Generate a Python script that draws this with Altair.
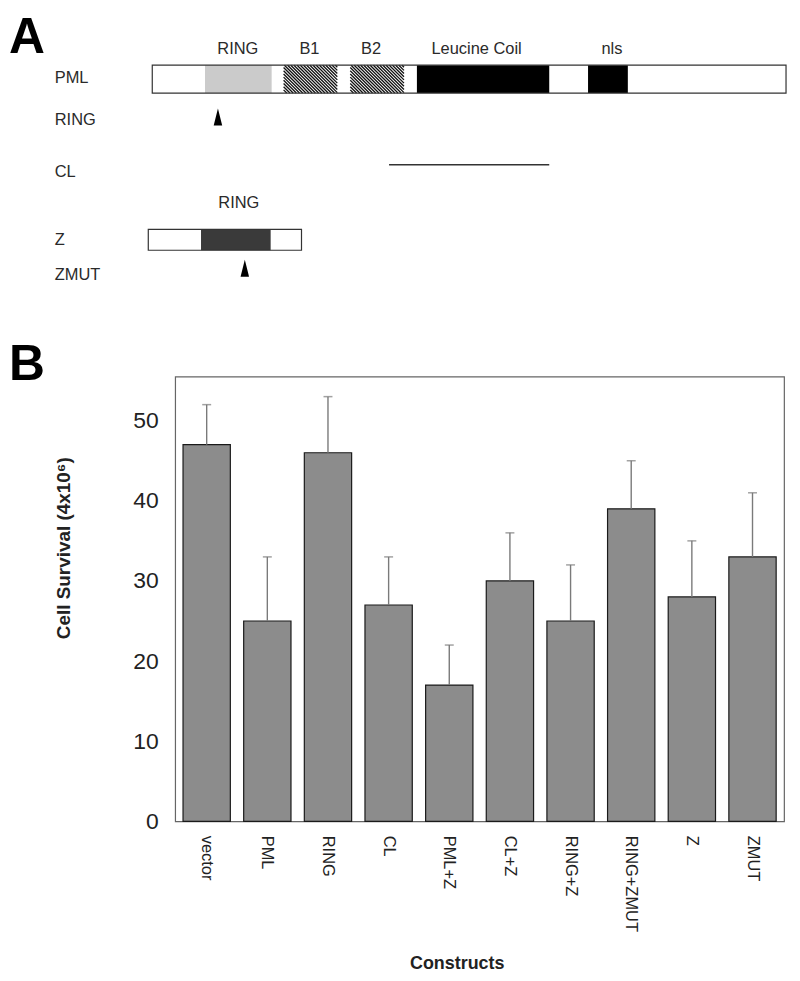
import altair as alt
import pandas as pd

# ---------------- Panel B data ----------------
constructs = ["vector", "PML", "RING", "CL", "PML+Z", "CL+Z", "RING+Z", "RING+ZMUT", "Z", "ZMUT"]
survival = [47, 25, 46, 27, 17, 30, 25, 39, 28, 33]
error = [5, 8, 7, 6, 5, 6, 7, 6, 7, 8]

# ---------------- Panel A data (schematic, drawing units) ----------------
pml_span = [-23, 614]
pml_rows = [52, 80]
domain_names = ["RING", "B1", "B2", "Leucine  Coil", "nls"]
domain_start = [30, 109, 176, 243, 415]
domain_end = [97, 163, 230, 376, 455]
domain_kind = ["ring", "hatched", "hatched", "solid", "solid"]
domain_label_x = [63, 135, 197, 303, 439]
domain_label_y = 36

row_names = ["PML", "RING", "CL", "Z", "ZMUT"]
row_y = [65, 107, 159, 228, 263]
row_x = -121

cl_span = [215, 376]
cl_y = 152

z_span = [-27, 127]
z_rows = [217, 238]
z_ring = [26, 96]
z_label = ["RING"]
z_label_pos = [64, 191]

arrow_x = [43, 70]
arrow_y = [104, 256]

FONT = "Liberation Sans"

# ---------------- Panel A ----------------
xA = alt.Scale(domain=[0, 612], zero=False, nice=False)
yA = alt.Scale(domain=[0, 287], zero=False, nice=False, reverse=True)

pml_df = pd.DataFrame({"x": [pml_span[0]], "x2": [pml_span[1]], "y": [pml_rows[0]], "y2": [pml_rows[1]]})
dom_df = pd.DataFrame({"name": domain_names, "x": domain_start, "x2": domain_end,
                       "kind": domain_kind, "lx": domain_label_x})
dom_df["y"] = pml_rows[0]
dom_df["y2"] = pml_rows[1]
dom_df["ly"] = domain_label_y

# hatch lines derived from hatched domain extents
hatch = []
for s, e, k in zip(domain_start, domain_end, domain_kind):
    if k != "hatched":
        continue
    top, bot = pml_rows
    d = bot - top
    xt = s - d
    while xt < e:
        tmin = max(0.0, (s - xt) / d)
        tmax = min(1.0, (e - xt) / d)
        if tmin < tmax:
            hatch.append({"x": xt + tmin * d, "x2": xt + tmax * d,
                          "y": top + tmin * d, "y2": top + tmax * d})
        xt += 3.2
hatch_df = pd.DataFrame(hatch)

rows_df = pd.DataFrame({"name": row_names, "y": row_y})
rows_df["x"] = row_x

z_df = pd.DataFrame({"x": [z_span[0]], "x2": [z_span[1]], "y": [z_rows[0]], "y2": [z_rows[1]]})
zr_df = pd.DataFrame({"x": [z_ring[0]], "x2": [z_ring[1]], "y": [z_rows[0]], "y2": [z_rows[1]]})
zl_df = pd.DataFrame({"name": z_label, "x": [z_label_pos[0]], "y": [z_label_pos[1]]})
cl_df = pd.DataFrame({"x": [cl_span[0]], "x2": [cl_span[1]], "y": [cl_y]})
arrow_df = pd.DataFrame({"x": arrow_x, "y": arrow_y})
letterA_df = pd.DataFrame({"t": ["A"], "x": [-167], "y": [0]})

def rect_enc(ch):
    return ch.encode(
        x=alt.X("x:Q", scale=xA, axis=None), x2="x2:Q",
        y=alt.Y("y:Q", scale=yA, axis=None), y2="y2:Q")

pml_bg = rect_enc(alt.Chart(pml_df).mark_rect(fill="white"))
dom_rects = alt.Chart(dom_df).mark_rect().encode(
    x=alt.X("x:Q", scale=xA, axis=None), x2="x2:Q",
    y=alt.Y("y:Q", scale=yA, axis=None), y2="y2:Q",
    color=alt.Color("kind:N", scale=alt.Scale(domain=["ring", "hatched", "solid"],
                                              range=["#cbcbcb", "#ffffff", "#000000"]),
                    legend=None))
hatch_lines = alt.Chart(hatch_df).mark_rule(color="#111", strokeWidth=1.3).encode(
    x=alt.X("x:Q", scale=xA, axis=None), x2="x2:Q",
    y=alt.Y("y:Q", scale=yA, axis=None), y2="y2:Q")
pml_outline = rect_enc(alt.Chart(pml_df).mark_rect(fill=None, stroke="#333", strokeWidth=1.2))
dom_labels = alt.Chart(dom_df).mark_text(font=FONT, fontSize=16.5, color="#2a2a2a").encode(
    x=alt.X("lx:Q", scale=xA, axis=None), y=alt.Y("ly:Q", scale=yA, axis=None), text="name:N")
row_labels = alt.Chart(rows_df).mark_text(font=FONT, fontSize=16.5, color="#2a2a2a", align="left").encode(
    x=alt.X("x:Q", scale=xA, axis=None), y=alt.Y("y:Q", scale=yA, axis=None), text="name:N")
cl_line = alt.Chart(cl_df).mark_rule(color="#333", strokeWidth=1.6).encode(
    x=alt.X("x:Q", scale=xA, axis=None), x2="x2:Q", y=alt.Y("y:Q", scale=yA, axis=None))
z_bg = rect_enc(alt.Chart(z_df).mark_rect(fill="white"))
z_ring_rect = rect_enc(alt.Chart(zr_df).mark_rect(fill="#3a3a3a"))
z_outline = rect_enc(alt.Chart(z_df).mark_rect(fill=None, stroke="#333", strokeWidth=1.2))
z_lab = alt.Chart(zl_df).mark_text(font=FONT, fontSize=16.5, color="#2a2a2a").encode(
    x=alt.X("x:Q", scale=xA, axis=None), y=alt.Y("y:Q", scale=yA, axis=None), text="name:N")
arrows = alt.Chart(arrow_df).mark_point(
    shape="M0,-1L0.45,0.8L0.5,1L-0.5,1L-0.45,0.8Z", filled=True, fill="#000",
    stroke=None, size=290, opacity=1).encode(
    x=alt.X("x:Q", scale=xA, axis=None), y=alt.Y("y:Q", scale=yA, axis=None))
letterA = alt.Chart(letterA_df).mark_text(font=FONT, fontSize=50, fontWeight="bold",
                                          align="left", baseline="top", color="#000").encode(
    x=alt.X("x:Q", scale=xA, axis=None), y=alt.Y("y:Q", scale=yA, axis=None), text="t:N")

panelA = alt.layer(pml_bg, dom_rects, hatch_lines, pml_outline, dom_labels, row_labels,
                   cl_line, z_bg, z_ring_rect, z_outline, z_lab, arrows, letterA).properties(
    width=612, height=287, view=alt.ViewBackground(stroke="transparent", strokeWidth=0))

# ---------------- Panel B ----------------
bdf = pd.DataFrame({"construct": constructs, "survival": survival, "err": error})
bdf["upper"] = bdf["survival"] + bdf["err"]

xB = alt.X("construct:N", sort=constructs,
           scale=alt.Scale(paddingInner=0.22, paddingOuter=0.13),
           axis=alt.Axis(title="Constructs", labelAngle=90, labelFont=FONT, labelFontSize=16.5,
                         labelColor="#222", labelPadding=14, ticks=False, domain=False,
                         titleFont=FONT, titleFontSize=18, titleFontWeight="bold",
                         titleColor="#222", titleX=283, titleY=143, titleBaseline="middle",
                         titleAlign="center"))
yScale = alt.Scale(domain=[0, 55.5], nice=False, zero=True)
yB = alt.Y("survival:Q", scale=yScale,
           axis=alt.Axis(title="Cell  Survival   (4x10⁶)", values=[0, 10, 20, 30, 40, 50],
                         labelFont=FONT, labelFontSize=23, labelColor="#222", labelPadding=17,
                         ticks=False, domain=False, grid=False,
                         titleFont=FONT, titleFontSize=19, titleFontWeight="bold",
                         titleColor="#222", titleAngle=270, titleX=-112, titleY=172,
                         titleBaseline="middle", titleAlign="center"))

bars = alt.Chart(bdf).mark_bar(fill="#8c8c8c", stroke="#1a1a1a", strokeWidth=1.2).encode(x=xB, y=yB)
err_rule = alt.Chart(bdf).mark_rule(color="#7a7a7a", strokeWidth=1.4).encode(
    x=alt.X("construct:N", sort=constructs), y=alt.Y("survival:Q", scale=yScale), y2="upper:Q")
caps = alt.Chart(bdf).mark_tick(color="#7a7a7a", thickness=1.5, size=9).encode(
    x=alt.X("construct:N", sort=constructs), y=alt.Y("upper:Q", scale=yScale))
letterB = alt.Chart(pd.DataFrame({"t": ["B"]})).mark_text(
    font=FONT, fontSize=50, fontWeight="bold", align="left", baseline="top", color="#000").encode(
    x=alt.value(-167), y=alt.value(-37), text="t:N")

panelB = alt.layer(bars, err_rule, caps, letterB).properties(
    width=612, height=447, view=alt.ViewBackground(stroke="#666", strokeWidth=1.2))

chart = alt.vconcat(panelA, panelB, spacing=40).properties(
    padding={"left": 0, "top": 3, "right": 5, "bottom": 5}
).configure(background="white")

chart.save("out.html", embed_options={"renderer": "svg", "actions": False})
